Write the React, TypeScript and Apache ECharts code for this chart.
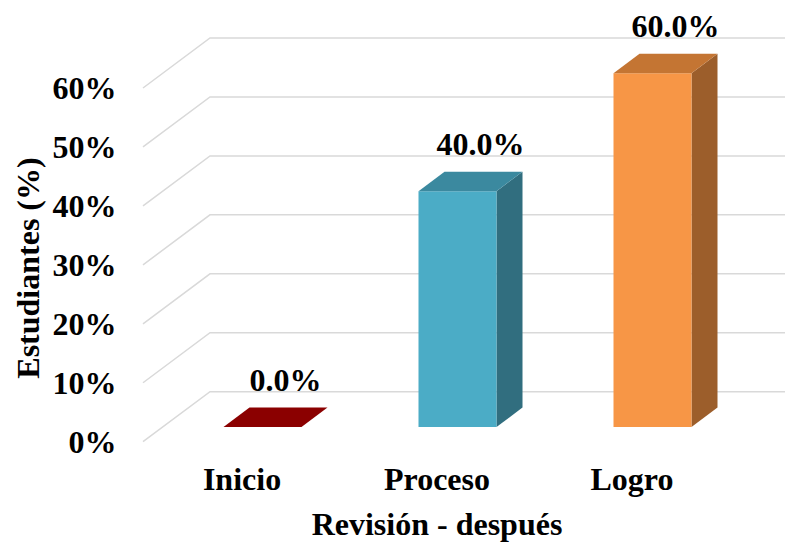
import React, { useEffect, useRef } from "react";
import * as echarts from "echarts";

const categories = ["Inicio", "Proceso", "Logro"];
const values = [0, 40, 60];
const yTicks = [0, 10, 20, 30, 40, 50, 60];
const frontColors = ["#8B0000", "#4BACC6", "#F79646"];
const topColors = ["#8B0000", "#3B899F", "#C47533"];
const sideColors = ["#6E0000", "#316E7F", "#9C5E2B"];
const xTitle = "Revisión - después";
const yTitle = "Estudiantes (%)";

const FONT = "'Liberation Serif', 'Times New Roman', serif";
const FS = 32;

export default function App() {
  const ref = useRef<HTMLDivElement>(null);
  useEffect(() => {
    document.body.style.margin = "0";
    const chart = echarts.init(ref.current!, null, { renderer: "svg" });
    const option: any = {
      animation: false,
      backgroundColor: "#ffffff",
      grid: { left: 144.5, right: 55.5, top: 88, bottom: 101.3, containLabel: false },
      xAxis: {
        type: "category",
        data: categories,
        axisLine: { show: false },
        axisTick: { show: false },
        splitLine: { show: false },
        axisLabel: { fontSize: FS, fontWeight: "bold", fontFamily: FONT, color: "#000", margin: 21 },
      },
      yAxis: {
        type: "value",
        min: 0,
        max: 60,
        interval: 10,
        axisLine: { show: false },
        axisTick: { show: false },
        splitLine: { show: false },
        axisLabel: {
          formatter: (v: number) => v + "%",
          fontSize: FS,
          fontWeight: "bold",
          fontFamily: FONT,
          color: "#000",
          margin: 28,
        },
      },
      graphic: [
        {
          type: "text",
          x: 437,
          y: 524,
          style: { text: xTitle, fontSize: FS, fontWeight: "bold", fontFamily: FONT, fill: "#000", align: "center", verticalAlign: "middle" },
        },
        {
          type: "text",
          x: 28,
          y: 268,
          rotation: Math.PI / 2,
          style: { text: yTitle, fontSize: FS, fontWeight: "bold", fontFamily: FONT, fill: "#000", align: "center", verticalAlign: "middle" },
        },
      ],
      series: [
        {
          type: "custom",
          z: 1,
          clip: false,
          silent: true,
          data: yTicks.map((v) => [0, v]),
          renderItem: (params: any, api: any) => {
            const p = api.coord([0, api.value(1)]);
            const cs = params.coordSys;
            const y = p[1];
            return {
              type: "polyline",
              shape: { points: [[cs.x - 1.5, y], [cs.x + 65.5, y - 50], [api.getWidth(), y - 50]] },
              style: { stroke: "#d9d9d9", lineWidth: 1.5, fill: "none" },
            };
          },
        },
        {
          type: "custom",
          z: 5,
          clip: false,
          data: categories.map((c, i) => [i, values[i]]),
          renderItem: (params: any, api: any) => {
            const idx = api.value(0);
            const v = api.value(1);
            const base = api.coord([idx, 0]);
            const top = api.coord([idx, v]);
            const lift = 14.7;
            const w = 78;
            const cx = base[0] + 20.5;
            const x0 = cx - w / 2;
            const x1 = cx + w / 2;
            const yb = base[1] - lift;
            const yt = top[1] - lift;
            const dx = 26;
            const dy = -19.5;
            return {
              type: "group",
              children: [
                {
                  type: "polygon",
                  shape: { points: [[x1, yt], [x1 + dx, yt + dy], [x1 + dx, yb + dy], [x1, yb]] },
                  style: { fill: sideColors[idx] },
                },
                {
                  type: "polygon",
                  shape: { points: [[x0, yt], [x1, yt], [x1, yb], [x0, yb]] },
                  style: { fill: frontColors[idx] },
                },
                {
                  type: "polygon",
                  shape: { points: [[x0, yt], [x0 + dx, yt + dy], [x1 + dx, yt + dy], [x1, yt]] },
                  style: { fill: topColors[idx] },
                },
                {
                  type: "text",
                  x: cx + dx - 3,
                  y: yt + dy - 12,
                  style: {
                    text: v.toFixed(1) + "%",
                    fontSize: FS,
                    fontWeight: "bold",
                    fontFamily: FONT,
                    fill: "#000",
                    align: "center",
                    verticalAlign: "bottom",
                  },
                },
              ],
            };
          },
        },
      ],
    };
    chart.setOption(option);
    return () => chart.dispose();
  }, []);
  return <div ref={ref} style={{ width: 785, height: 543 }} />;
}
